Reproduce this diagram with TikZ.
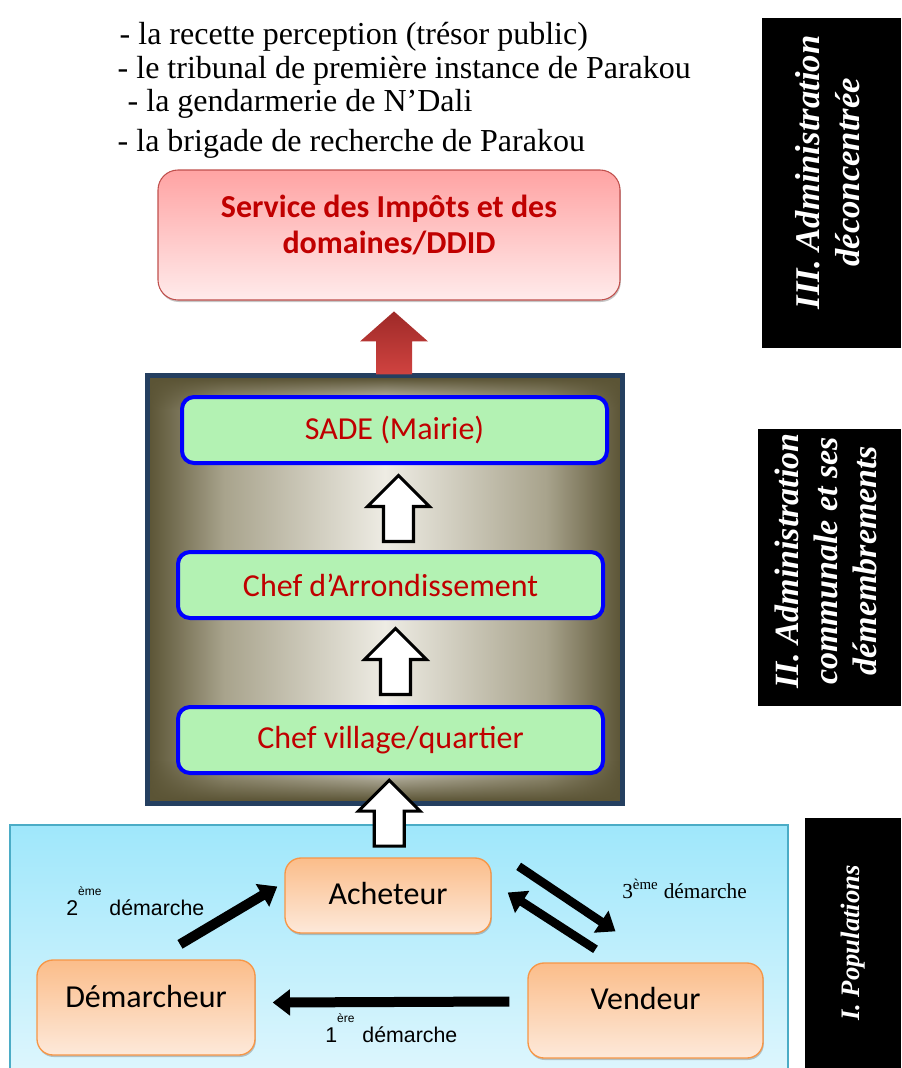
\documentclass[tikz,border=0pt]{standalone}
\usepackage{fontspec}
\setmainfont{Liberation Serif}
\setsansfont{Carlito}
\newfontfamily\arialfont{Liberation Sans}
\usetikzlibrary{calc,shadows,fadings,arrows.meta}

% colours
\definecolor{ddidred}{HTML}{C00000}
\definecolor{servtop}{HTML}{FFA3A3}
\definecolor{servbot}{HTML}{FFEBEB}
\definecolor{servline}{HTML}{C0504D}
\definecolor{arrdark}{HTML}{9E2A28}
\definecolor{arrlight}{HTML}{D04340}
\definecolor{framenavy}{HTML}{243F60}
\definecolor{fdark}{HTML}{5B5435}
\definecolor{fmid}{HTML}{A8A38C}
\definecolor{flight}{HTML}{EEECE4}
\definecolor{chefgreen}{HTML}{B3F2B3}
\definecolor{popstop}{HTML}{9FE7FB}
\definecolor{popsbot}{HTML}{E2F7FD}
\definecolor{popsline}{HTML}{4BACC6}
\definecolor{ortop}{HTML}{FBBD8A}
\definecolor{orbot}{HTML}{FDE9DA}
\definecolor{orline}{HTML}{F79646}

\pgfdeclarehorizontalshading{framefade}{100bp}{color(0bp)=(fdark); color(25bp)=(fdark);
  color(33bp)=(fmid); color(50bp)=(flight); color(67bp)=(fmid); color(75bp)=(fdark); color(100bp)=(fdark)}

\tikzset{
  service/.style={rounded corners=15pt, draw=servline, line width=0.8pt,
    top color=servtop, bottom color=servbot, minimum width=346.5pt, minimum height=97.5pt,
    font=\sffamily\bfseries\fontsize{24}{26.5}\selectfont, text=ddidred,
    drop shadow={shadow xshift=0.6pt, shadow yshift=-1.5pt, opacity=0.45}},
  chef/.style={rounded corners=9pt, draw=blue, line width=3pt, fill=chefgreen,
    minimum width=318.75pt, minimum height=49.5pt,
    font=\sffamily\fontsize{24}{26}\selectfont, text=ddidred},
  actor/.style={rounded corners=12pt, draw=orline, line width=1pt,
    top color=ortop, bottom color=orbot, font=\sffamily\fontsize{24}{26}\selectfont,
    drop shadow={shadow xshift=0.6pt, shadow yshift=-1.5pt, opacity=0.45}},
  level/.style={fill=black, text=white, rotate=90,
    font=\bfseries\itshape\fontsize{26}{30}\selectfont},
  listline/.style={anchor=base west, font=\fontsize{24}{28}\selectfont},
  demarche/.style={line width=7.5pt, -{Triangle[length=13pt,width=19pt]}},
  blockup/.pic={\path[pic actions] (-15,34) -- (-15,-1) -- (-31,-1) -- (0,-32)
    -- (31,-1) -- (15,-1) -- (15,34) -- cycle;},
  redup/.pic={\path[pic actions] (-18,31) -- (-18,-2) -- (-34,-2) -- (0,-32)
    -- (34,-2) -- (18,-2) -- (18,31) -- cycle;}
}

\begin{document}
\begin{tikzpicture}[x=0.75pt,y=-0.75pt]
  \useasboundingbox (0,0) rectangle (901,1068);

  % list of services
  \node[listline] (l1) at (115,44) {- la recette perception (trésor public)};
  \node[listline] (l2) at (113,78) {- le tribunal de première instance de Parakou};
  \node[listline] (l3) at (123,111) {- la gendarmerie de N’Dali};
  \node[listline] (l4) at (113,151) {- la brigade de recherche de Parakou};

  \node[service] (service) at (389,235)
    {\raisebox{-1.2pt}[0pt][0pt]{\begin{tabular}{@{}c@{}}Service des Impôts et des\\domaines/DDID\end{tabular}}};

  % communal frame
  \node[draw=framenavy, line width=2.5pt, shading=framefade, minimum width=355.5pt,
    minimum height=320.25pt] (frame) at (385,589.5) {};
  \fill[fdark, path fading=south] (150,378) rectangle (620,410);
  \fill[fdark, path fading=north] (150,760) rectangle (620,801);
  \draw[framenavy, line width=2.5pt] (frame.north west) rectangle (frame.south east);

  \node[chef] (sade) at (394.5,430) {SADE (Mairie)};
  \node[chef] (arr) at (390.5,585) {Chef d’Arrondissement};
  \node[chef] (vil) at (390.5,740) {Chef village/quartier};

  % populations
  \node[draw=popsline, line width=0.8pt, top color=popstop, bottom color=popsbot,
    minimum width=583.5pt, minimum height=198.75pt] (pop) at (399,957.5) {};

  \node[actor, minimum width=154.5pt, minimum height=56.25pt] (ach) at (388,895.5) {\raisebox{-6.5pt}[0pt][0pt]{Acheteur}};
  \node[actor, minimum width=163.5pt, minimum height=71.25pt] (dem) at (146,1007.5) {\raisebox{0pt}[0pt][0pt]{Démarcheur}};
  \node[actor, minimum width=176.25pt, minimum height=71.25pt] (ven) at (645.5,1010.5) {\raisebox{1pt}[0pt][0pt]{Vendeur}};

  % block arrows
  \pic[fill=white, draw=black, line width=2.3pt] at ($(sade.south)!0.5!(arr.north)+(6,0)$) {blockup};
  \pic[fill=white, draw=black, line width=2.3pt] at ($(arr.south)!0.5!(vil.north)+(5,-2)$) {blockup};
  \pic[fill=white, draw=black, line width=2.3pt] at ($(vil.south)!0.5!(ach.north)+(0,-4)$) {blockup};
  \pic[top color=arrdark, bottom color=arrlight] at ($(service.south)!0.5!(frame.north)+(7,6)$) {redup};

  % the steps
  \draw[demarche] ($(dem.north)+(34,-15)$) -- ($(ach.west)+(-7,-9)$);
  \draw[demarche] ($(ven.west)+(-18,-9)$) -- ($(dem.east)+(17,-5)$);
  \draw[demarche, line width=6.5pt] ($(ach.north east)+(27,9)$) -- ($(ven.north)+(-30,-31)$);
  \draw[demarche, line width=6.5pt] ($(ven.north)+(-50,-13)$) -- ($(ach.east)+(16,-3)$);

  \node[anchor=base west, inner sep=0pt, font=\arialfont\fontsize{16}{18}\selectfont] (s2) at (66,915)
    {2\raisebox{15pt}{\fontsize{9}{9}\selectfont ème}\hspace{6pt}démarche};
  \node[anchor=base west, inner sep=0pt, font=\arialfont\fontsize{16}{18}\selectfont] (s1) at (325,1042)
    {1\raisebox{15pt}{\fontsize{9}{9}\selectfont ère}\hspace{6pt}démarche};
  \node[anchor=base west, inner sep=0pt, font=\fontsize{16}{18}\selectfont] (s3) at (622,898)
    {3\textsuperscript{ème} démarche};

  % levels
  \node[level, minimum width=247.5pt, minimum height=104.25pt] (lev3) at (831.5,183)
    {\hspace*{16pt}\begin{tabular}{@{}c@{}}III. Administration\\déconcentrée\end{tabular}};
  \node[level, minimum width=206.25pt, minimum height=107.25pt, font=\bfseries\itshape\fontsize{25.5}{29.5}\selectfont] (lev2) at (829.5,567.5)
    {\hspace*{10pt}\begin{tabular}{@{}c@{}}II. Administration\\communale et ses\\démembrements\end{tabular}};
  \node[level, minimum width=187.5pt, minimum height=72pt, font=\bfseries\itshape\fontsize{20}{24}\selectfont] (lev1) at (853,943)
    {I. Populations};
\end{tikzpicture}
\end{document}
